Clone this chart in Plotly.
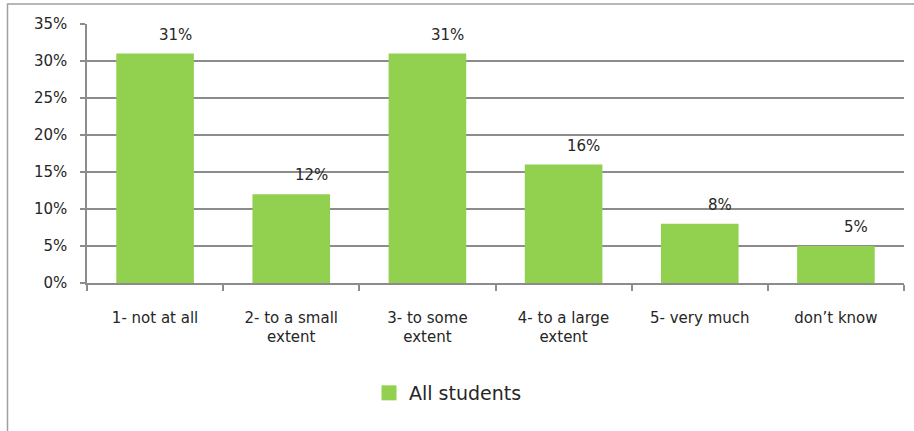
import plotly.graph_objects as go

categories = ["1- not at all", "2- to a small<br>extent", "3- to some<br>extent",
              "4- to a large<br>extent", "5- very much", "don’t know"]
values = [0.31, 0.12, 0.31, 0.16, 0.08, 0.05]
series_name = "All students"
y_ticks = [0, 0.05, 0.10, 0.15, 0.20, 0.25, 0.30, 0.35]

W, H = 914, 431
L, R, T, B = 87, 10, 24, 148
pw, ph = W - L - R, H - T - B

font = "'DejaVu Sans', sans-serif"
txt = "#262626"
grid = "#8c8c8c"
green = "#92D050"

fig = go.Figure()
fig.add_trace(go.Bar(x=categories, y=values, name=series_name,
                     marker=dict(color=green, line=dict(width=0)),
                     showlegend=False))
# legend entry for the bar series (larger square swatch, like the original)
fig.add_trace(go.Scatter(x=[None], y=[None], mode="markers", name=series_name,
                         marker=dict(symbol="square", size=15, color=green),
                         showlegend=True))

for c, v in zip(categories, values):
    fig.add_annotation(x=c, y=v, text=f"{round(v*100)}%", showarrow=False,
                       xshift=20, yshift=19, yanchor="middle",
                       font=dict(family=font, size=15, color=txt))

def px_x(p):
    return (p - L) / pw

def px_y(p):
    return 1 - (p - T) / ph

fig.add_shape(type="rect", xref="paper", yref="paper",
              x0=px_x(7.5), x1=px_x(930), y0=px_y(4), y1=px_y(460),
              line=dict(color="#a0a0a0", width=1.5), fillcolor="rgba(0,0,0,0)",
              layer="above")

fig.update_layout(
    width=W, height=H,
    margin=dict(l=L, r=R, t=T, b=B, autoexpand=False),
    paper_bgcolor="white", plot_bgcolor="white",
    bargap=0.43,
    font=dict(family=font, size=15, color=txt),
    xaxis=dict(showline=True, linecolor=grid, linewidth=1.5,
               ticks="outside", tickson="boundaries", ticklen=6, tickcolor=grid,
               tickwidth=1.5, automargin=False, ticklabelstandoff=20,
               tickfont=dict(family=font, size=15, color=txt)),
    yaxis=dict(range=[0, 0.35], tickvals=y_ticks, tickformat=".0%",
               showgrid=True, gridcolor=grid, gridwidth=1.5,
               showline=True, linecolor=grid, linewidth=1.5,
               ticks="outside", ticklen=5, tickcolor=grid, tickwidth=1.5,
               zeroline=False, automargin=False, ticklabelstandoff=10,
               tickfont=dict(family=font, size=15, color=txt)),
    legend=dict(orientation="h", x=px_x(369), y=px_y(393), xanchor="left",
                yanchor="middle", font=dict(family=font, size=19, color=txt),
                bgcolor="rgba(0,0,0,0)"),
)

fig.write_html("out.html", config={"displayModeBar": False},
               post_script="document.body.style.margin='0';"
                           "document.body.style.overflow='hidden';")
